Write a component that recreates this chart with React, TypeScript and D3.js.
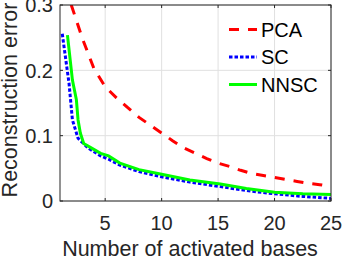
import React from "react";
import * as d3 from "d3";

// PCA (red dashed), read at integer numbers of bases
const pcaX = [1, 2, 3, 4, 5, 6, 7, 8, 9, 10, 11, 12, 13, 14, 15, 16, 17, 18, 19, 20, 21, 22, 23, 24, 25];
const pcaY = [0.37, 0.3, 0.248, 0.203, 0.175, 0.158, 0.143, 0.128, 0.116, 0.104, 0.092, 0.081, 0.073, 0.065, 0.058, 0.053, 0.047, 0.042, 0.039, 0.036, 0.033, 0.03, 0.027, 0.025, 0.022];

// SC (blue dotted)
const scX = [1.2, 1.8, 2.1, 2.6, 3.5, 4.6, 5.3, 6.3, 8, 10, 12.5, 15.2, 17.5, 20, 22.5, 25];
const scY = [0.256, 0.18, 0.124, 0.096, 0.081, 0.069, 0.064, 0.055, 0.045, 0.037, 0.029, 0.022, 0.016, 0.011, 0.007, 0.004];

// NNSC (green solid)
const nnscX = [1.66, 2.1, 2.45, 2.6, 2.8, 3.1, 3.8, 4.6, 5.3, 6.3, 8, 10, 12.5, 15.2, 17.5, 20, 22.5, 25];
const nnscY = [0.254, 0.185, 0.155, 0.124, 0.104, 0.088, 0.081, 0.073, 0.069, 0.058, 0.048, 0.041, 0.032, 0.026, 0.019, 0.0135, 0.011, 0.01];

const xTicks = [5, 10, 15, 20, 25];
const yTicks = [0, 0.1, 0.2, 0.3];
const yTickLabels = ["0", "0.1", "0.2", "0.3"];
const legendNames = ["PCA", "SC", "NNSC"];

const W = 342;
const H = 258;
const left = 60;
const right = 331;
const top = 5;
const bottom = 201;
const font = "'Liberation Sans', Arial, Helvetica, sans-serif";
const axisColor = "#262626";

export default function App() {
  const x = d3.scaleLinear().domain([1, 25]).range([left, right]);
  const y = d3.scaleLinear().domain([0, 0.3]).range([bottom, top]);

  const line = d3
    .line<[number, number]>()
    .x((d) => x(d[0]))
    .y((d) => y(d[1]));

  const series = [
    { pts: pcaX.map((v, i) => [v, pcaY[i]] as [number, number]), color: "#ff0000", dash: "10,9", offset: 10 },
    { pts: scX.map((v, i) => [v, scY[i]] as [number, number]), color: "#0000ff", dash: "3.5,2", offset: 0 },
    { pts: nnscX.map((v, i) => [v, nnscY[i]] as [number, number]), color: "#00ff00", dash: "none", offset: 0 },
  ];

  return (
    <svg width={W} height={H} style={{ position: "absolute", left: 0, top: 0, background: "#fff" }}>
      <defs>
        <clipPath id="plot">
          <rect x={left} y={top} width={right - left} height={bottom - top} />
        </clipPath>
      </defs>

      {/* grid */}
      {xTicks.map((t) => (
        <line key={"gx" + t} x1={x(t)} x2={x(t)} y1={top} y2={bottom} stroke="#e0e0e0" strokeWidth={1} />
      ))}
      {yTicks.map((t) => (
        <line key={"gy" + t} x1={left} x2={right} y1={y(t)} y2={y(t)} stroke="#e0e0e0" strokeWidth={1} />
      ))}

      {/* curves */}
      <g clipPath="url(#plot)">
        {series.map((s, i) => (
          <path
            key={i}
            d={line(s.pts) ?? ""}
            fill="none"
            stroke={s.color}
            strokeWidth={3}
            strokeDasharray={s.dash}
            strokeDashoffset={s.offset}
          />
        ))}
      </g>

      {/* box + ticks */}
      <rect x={left} y={top} width={right - left} height={bottom - top} fill="none" stroke={axisColor} strokeWidth={1} />
      {xTicks.map((t) => (
        <g key={"tx" + t}>
          <line x1={x(t)} x2={x(t)} y1={bottom} y2={bottom - 3} stroke={axisColor} />
          <line x1={x(t)} x2={x(t)} y1={top} y2={top + 3} stroke={axisColor} />
          <text x={x(t)} y={230} textAnchor="middle" fontSize={20} fontFamily={font} fill={axisColor}>
            {t}
          </text>
        </g>
      ))}
      {yTicks.map((t, i) => (
        <g key={"ty" + t}>
          <line x1={left} x2={left + 3} y1={y(t)} y2={y(t)} stroke={axisColor} />
          <line x1={right} x2={right - 3} y1={y(t)} y2={y(t)} stroke={axisColor} />
          <text x={53} y={y(t)} dy="0.36em" textAnchor="end" fontSize={20} fontFamily={font} fill={axisColor}>
            {yTickLabels[i]}
          </text>
        </g>
      ))}

      {/* axis labels */}
      <text x={190} y={256} textAnchor="middle" fontSize={21.5} fontFamily={font} fill={axisColor}>
        Number of activated bases
      </text>
      <text
        transform="translate(17, 100) rotate(-90)"
        textAnchor="middle"
        fontSize={21.5}
        fontFamily={font}
        fill={axisColor}
      >
        Reconstruction error
      </text>

      {/* legend */}
      {legendNames.map((name, i) => {
        const cy = 29.5 + i * 27.5;
        return (
          <g key={name}>
            <line
              x1={229}
              x2={257}
              y1={cy}
              y2={cy}
              stroke={series[i].color}
              strokeWidth={3}
              strokeDasharray={series[i].dash}
            />
            <text x={261} y={cy} dy="0.36em" fontSize={20} fontFamily={font} fill="#000">
              {name}
            </text>
          </g>
        );
      })}
    </svg>
  );
}
